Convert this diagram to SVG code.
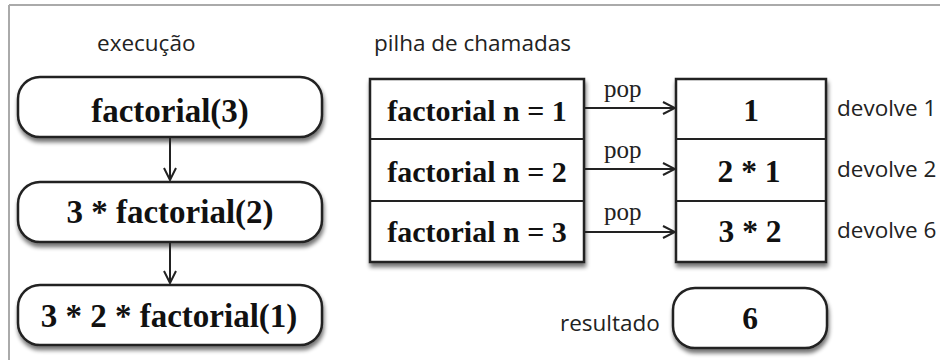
<svg xmlns="http://www.w3.org/2000/svg" width="940" height="360" viewBox="0 0 940 360">
<defs>
<filter id="sh" x="-10%" y="-10%" width="120%" height="140%">
<feGaussianBlur in="SourceAlpha" stdDeviation="2"/>
<feOffset dx="1" dy="4" result="b"/>
<feComponentTransfer><feFuncA type="linear" slope="0.55"/></feComponentTransfer>
<feMerge><feMergeNode/><feMergeNode in="SourceGraphic"/></feMerge>
</filter>
<marker id="ah" markerWidth="16" markerHeight="16" refX="14" refY="8" orient="auto" markerUnits="userSpaceOnUse">
<path d="M2,2 L14,8 L2,14" fill="none" stroke="#222" stroke-width="2"/>
</marker>
</defs>
<style>
.box{fill:#fff;stroke:#222;stroke-width:2.5}
.ln{stroke:#222;stroke-width:2;fill:none}
.b{font-family:"Liberation Serif",serif;font-weight:bold;font-size:30px;fill:#111;text-anchor:middle}
.bl{font-size:33px}
.br{font-size:31.5px}
.s{font-family:"Open Sans","Liberation Sans",sans-serif;font-size:22.5px;fill:#222}
.p{font-family:"Liberation Serif",serif;font-size:25px;fill:#222}
.frame{stroke:#aaa;stroke-width:2}
</style>
<rect width="940" height="360" fill="#fff"/>
<line class="frame" x1="9" y1="5" x2="940" y2="5"/>
<line class="frame" x1="9" y1="5" x2="9" y2="360"/>
<text class="s" x="97" y="51">execução</text>
<text class="s" x="374" y="51">pilha de chamadas</text>
<g id="exec1"><rect class="box" filter="url(#sh)" x="18" y="77" width="304" height="60" rx="22"/><text class="b bl" x="170" y="122">factorial(3)</text></g>
<g id="exec2"><rect class="box" filter="url(#sh)" x="18" y="182" width="304" height="60" rx="22"/><text class="b bl" x="170" y="223">3 * factorial(2)</text></g>
<g id="exec3"><rect class="box" filter="url(#sh)" x="18" y="285" width="304" height="60" rx="22"/><text class="b bl" x="169" y="327">3 * 2 * factorial(1)</text></g>
<g id="stack">
<rect class="box" filter="url(#sh)" x="370" y="79" width="214" height="183"/>
<line class="ln" x1="370" y1="139" x2="584" y2="139"/>
<line class="ln" x1="370" y1="201" x2="584" y2="201"/>
<text class="b" x="477" y="121">factorial n = 1</text>
<text class="b" x="477" y="182">factorial n = 2</text>
<text class="b" x="477" y="242">factorial n = 3</text>
</g>
<g id="returns">
<rect class="box" filter="url(#sh)" x="676" y="79" width="150" height="183"/>
<line class="ln" x1="676" y1="139" x2="826" y2="139"/>
<line class="ln" x1="676" y1="201" x2="826" y2="201"/>
<text class="b br" x="751" y="121">1</text>
<text class="b br" x="749" y="182">2 * 1</text>
<text class="b br" x="750" y="242">3 * 2</text>
<text class="s" x="837" y="116">devolve 1</text>
<text class="s" x="837" y="177">devolve 2</text>
<text class="s" x="837" y="238">devolve 6</text>
</g>
<g id="result">
<text class="s" x="560" y="331">resultado</text>
<rect class="box" filter="url(#sh)" x="673" y="288" width="154" height="60" rx="22"/>
<text class="b br" x="750" y="329">6</text>
</g>
<g id="connectors">
<line class="ln" x1="170" y1="137" x2="170" y2="180" marker-end="url(#ah)"/>
<line class="ln" x1="170" y1="242" x2="170" y2="283" marker-end="url(#ah)"/>
<line class="ln" x1="584" y1="108" x2="675" y2="108" marker-end="url(#ah)"/>
<line class="ln" x1="584" y1="169" x2="675" y2="169" marker-end="url(#ah)"/>
<line class="ln" x1="584" y1="232" x2="675" y2="232" marker-end="url(#ah)"/>
<text class="p" x="604" y="97">pop</text>
<text class="p" x="604" y="158">pop</text>
<text class="p" x="604" y="220">pop</text>
</g>
</svg>
